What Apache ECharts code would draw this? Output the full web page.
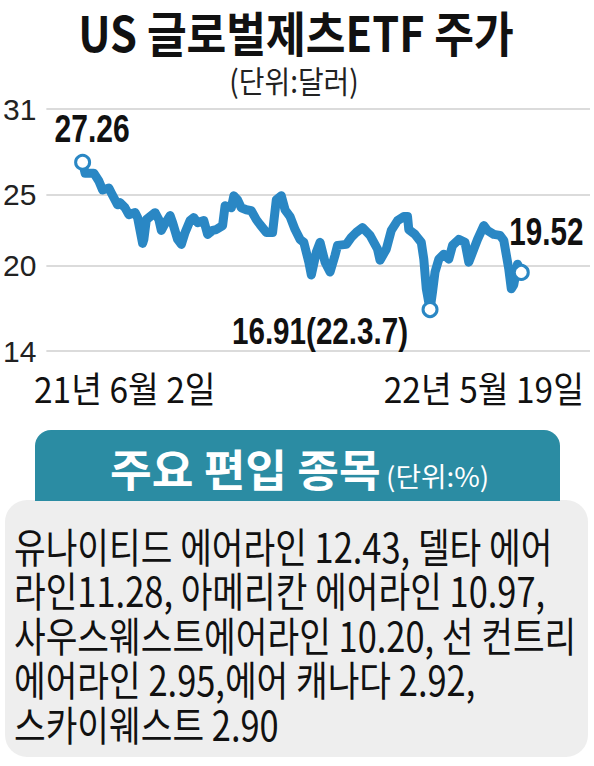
<!DOCTYPE html>
<html><head><meta charset="utf-8">
<script src="https://cdn.jsdelivr.net/npm/echarts@6/dist/echarts.min.js"></script>
<style>html,body{margin:0;padding:0;background:#fff}#c{width:594px;height:766px}</style>
</head><body><div id="c"></div>
<script>
// ---- data ----
const dates = ['2021-06-02','2021-06-04','2021-06-11','2021-06-15','2021-06-18','2021-06-23','2021-06-25','2021-06-30',
'2021-07-02','2021-07-06','2021-07-09','2021-07-14','2021-07-16','2021-07-20','2021-07-21','2021-07-23','2021-07-27','2021-07-30',
'2021-08-02','2021-08-04','2021-08-06','2021-08-11','2021-08-13','2021-08-17','2021-08-20','2021-08-23','2021-08-27','2021-08-30',
'2021-09-02','2021-09-07','2021-09-10','2021-09-14','2021-09-17','2021-09-22','2021-09-24','2021-09-29',
'2021-10-01','2021-10-04','2021-10-07','2021-10-11','2021-10-15','2021-10-19','2021-10-22','2021-10-27',
'2021-11-01','2021-11-04','2021-11-08','2021-11-11','2021-11-15','2021-11-19','2021-11-23','2021-11-26','2021-11-30',
'2021-12-02','2021-12-06','2021-12-09','2021-12-13','2021-12-17','2021-12-21','2021-12-23','2021-12-30',
'2022-01-03','2022-01-07','2022-01-12','2022-01-18','2022-01-24','2022-01-26','2022-01-31',
'2022-02-04','2022-02-09','2022-02-14','2022-02-17','2022-02-18','2022-02-23','2022-02-28',
'2022-03-02','2022-03-04','2022-03-07','2022-03-09','2022-03-11','2022-03-14','2022-03-18','2022-03-22','2022-03-25','2022-03-30',
'2022-04-04','2022-04-07','2022-04-11','2022-04-14','2022-04-19','2022-04-22','2022-04-27',
'2022-05-02','2022-05-05','2022-05-09','2022-05-11','2022-05-13','2022-05-16','2022-05-19'];
const prices = [27.26,26.49,26.49,25.94,25.31,25.45,25.10,24.27,
24.41,24.06,23.58,23.72,23.37,21.56,21.84,23.23,23.51,23.72,
23.23,22.47,22.81,23.51,23.02,21.84,21.49,22.33,23.16,23.37,
23.02,23.16,22.19,22.47,22.53,22.81,24.20,24.06,
24.90,24.62,24.06,23.92,23.85,23.23,22.88,22.33,
22.33,24.62,24.90,23.92,23.44,22.53,21.84,21.63,20.24,
19.34,20.94,21.63,20.24,19.55,20.73,21.42,21.49,
21.98,22.33,22.67,22.12,21.15,20.38,21.15,
22.47,23.16,23.44,23.44,22.53,22.19,21.63,
20.45,18.37,16.91,18.16,19.55,20.45,20.80,20.45,21.42,21.84,
21.63,20.24,21.15,21.84,22.81,22.47,22.19,
22.12,21.77,19.76,18.37,18.65,20.10,19.52];
const yTickValues = [14, 20, 25, 31];
const xEndLabels = ['21년 6월 2일', '22년 5월 19일'];
const titleText = 'US 글로벌제츠ETF 주가';
const unitText = '(단위:달러)';
const holdingsTitle = '주요 편입 종목';
const holdingsUnit = '(단위:%)';
const holdingsLines = [
  '유나이티드 에어라인 12.43, 델타 에어',
  '라인11.28, 아메리칸 에어라인 10.97,',
  '사우스웨스트에어라인 10.20, 선 컨트리',
  '에어라인 2.95,에어 캐나다 2.92,',
  '스카이웨스트 2.90'
];

// ---- chart ----
const BLUE = '#2a87c4';
const LAT = "'Liberation Sans',Arial,sans-serif";
const KR = "'Noto Sans CJK KR',sans-serif";
const lastIdx = prices.length - 1;
let minIdx = 0;
prices.forEach((v, i) => { if (v < prices[minIdx]) minIdx = i; });
const shortDate = d => { const p = d.split('-'); return p[0].slice(2) + '.' + (+p[1]) + '.' + (+p[2]); };
const markIdx = [0, minIdx, lastIdx];

const chart = echarts.init(document.getElementById('c'), null, { renderer: 'svg' });
chart.setOption({
  animation: false,
  backgroundColor: '#fff',
  grid: { left: 40, right: 4, top: 109, bottom: 415 },
  xAxis: {
    type: 'time', min: '2021-05-04', max: '2022-07-13',
    axisLine: { show: false }, axisTick: { show: false }, axisLabel: { show: false }, splitLine: { show: false }
  },
  yAxis: {
    type: 'value', min: 14, max: 31, interval: 1,
    axisLine: { show: false }, axisTick: { show: false }, splitLine: { show: false },
    axisLabel: {
      margin: 10, color: '#222', fontSize: 30, fontFamily: LAT,
      formatter: v => yTickValues.indexOf(v) >= 0 ? String(v) : ''
    }
  },
  series: [
    {
      type: 'line', data: dates.map((d, i) => [d, prices[i]]), symbol: 'none',
      lineStyle: { color: BLUE, width: 9, join: 'round', cap: 'round' }, z: 3,
      markLine: {
        silent: true, symbol: 'none', label: { show: false }, z: 1,
        lineStyle: { color: '#cfcfcf', width: 1.5, type: 'solid' },
        data: yTickValues.map(v => ({ yAxis: v }))
      }
    },
    {
      type: 'scatter', data: markIdx.map(i => [dates[i], prices[i]]), symbol: 'circle', symbolSize: 14, z: 5,
      itemStyle: { color: '#fff', borderColor: BLUE, borderWidth: 3, opacity: 1 }
    }
  ]
});

// annotations and layout text (positions of value labels come from the chart's own scales)
const px = i => chart.convertToPixel({ seriesIndex: 1 }, [dates[i], prices[i]]);
const p0 = px(0), pm = px(minIdx), pe = px(lastIdx);
const g = [];
g.push({ type: 'text', x: 296, y: 31, scaleX: 0.9, style: { text: titleText, font: "bold 48px " + KR, fill: '#111', textAlign: 'center', textVerticalAlign: 'middle' } });
g.push({ type: 'text', x: 294, y: 79, scaleX: 0.9, style: { text: unitText, font: "31px " + KR, fill: '#222', textAlign: 'center', textVerticalAlign: 'middle' } });
g.push({ type: 'text', x: 34, y: 387, scaleX: 0.93, style: { text: xEndLabels[0], font: "36px " + KR, fill: '#111', textAlign: 'left', textVerticalAlign: 'middle' } });
g.push({ type: 'text', x: 584, y: 387, scaleX: 0.93, style: { text: xEndLabels[1], font: "36px " + KR, fill: '#111', textAlign: 'right', textVerticalAlign: 'middle' } });
g.push({ type: 'text', x: p0[0] - 28, y: p0[1] - 34, scaleX: 0.79, style: { text: prices[0].toFixed(2), font: "bold 38px " + LAT, fill: '#111', textAlign: 'left', textVerticalAlign: 'middle' }, z: 10 });
g.push({ type: 'text', x: pm[0] - 22, y: pm[1] + 22, scaleX: 0.8, style: { text: prices[minIdx].toFixed(2) + '(' + shortDate(dates[minIdx]) + ')', font: "bold 37px " + LAT, fill: '#111', textAlign: 'right', textVerticalAlign: 'middle' }, z: 10 });
g.push({ type: 'text', x: pe[0] - 12, y: pe[1] - 41, scaleX: 0.78, style: { text: prices[lastIdx].toFixed(2), font: "bold 38px " + LAT, fill: '#111', textAlign: 'left', textVerticalAlign: 'middle' }, z: 10 });
g.push({ type: 'rect', shape: { x: 5, y: 500, width: 583, height: 257, r: 22 }, style: { fill: '#eeeeee' }, z: 0 });
g.push({ type: 'rect', shape: { x: 35, y: 430, width: 525, height: 71, r: [16, 16, 0, 0] }, style: { fill: '#2b8ca3' }, z: 1 });
g.push({ type: 'text', x: 110, y: 468, scaleX: 1.03, style: { text: holdingsTitle, font: "bold 44px " + KR, fill: '#fff', textAlign: 'left', textVerticalAlign: 'middle' }, z: 2 });
g.push({ type: 'text', x: 386, y: 475, scaleX: 1.03, style: { text: holdingsUnit, font: "27px " + KR, fill: '#fff', textAlign: 'left', textVerticalAlign: 'middle' }, z: 2 });
holdingsLines.forEach((t, i) => {
  g.push({ type: 'text', x: 14, y: 545 + i * 44.5, scaleX: 0.84, style: { text: t, font: "41px " + KR, fill: '#111', textAlign: 'left', textVerticalAlign: 'middle' }, z: 2 });
});
chart.setOption({ graphic: g });
</script></body></html>
